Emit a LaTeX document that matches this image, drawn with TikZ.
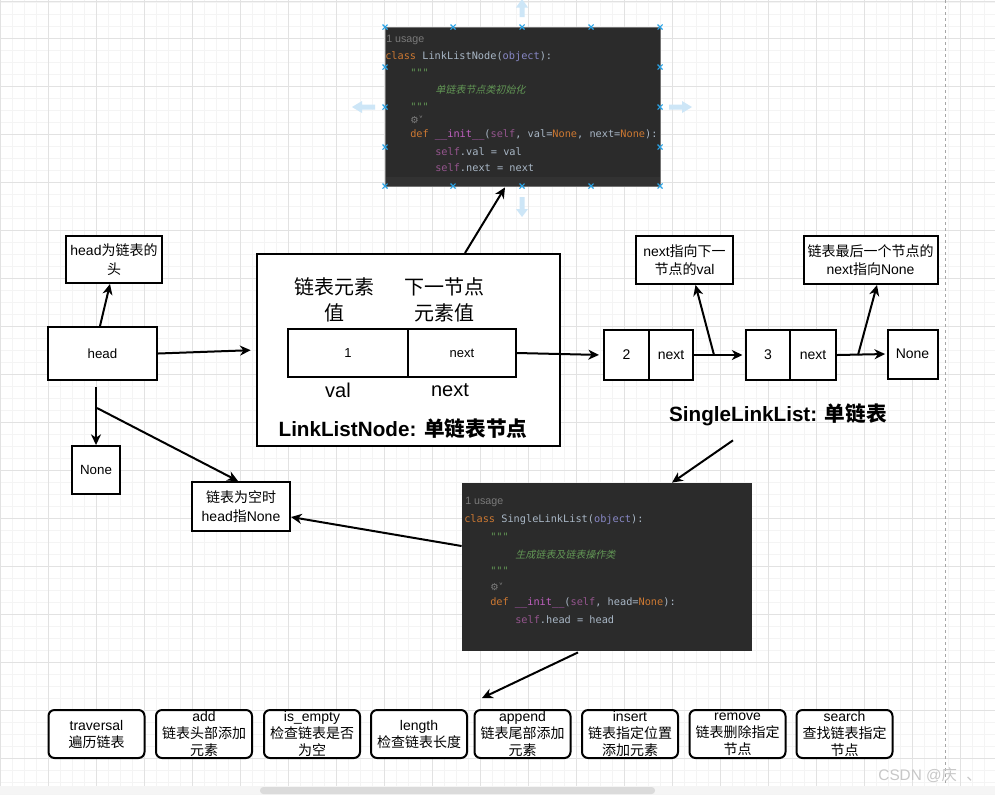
\documentclass[tikz,border=0pt]{standalone}
\usepackage{fontspec}
\setmainfont{Liberation Sans}
\newfontfamily\cjk{Noto Sans CJK SC}
\newfontfamily\cjkit[FakeSlant=0.25]{Noto Sans CJK SC}
\newfontfamily\codefont{DejaVu Sans Mono}
\newfontfamily\symfont{DejaVu Sans}
\newcommand\zh[1]{{\cjk #1}}
\usetikzlibrary{arrows.meta,calc}
\definecolor{codebg}{HTML}{2B2B2B}
\definecolor{codehl}{HTML}{323232}
\definecolor{cfg}{HTML}{A9B7C6}
\definecolor{ckw}{HTML}{CC7832}
\definecolor{cobj}{HTML}{8888C6}
\definecolor{cstr}{HTML}{629755}
\definecolor{cfun}{HTML}{C060C0}
\definecolor{cself}{HTML}{94558D}
\definecolor{cusage}{HTML}{7A7A7A}
\definecolor{handleblue}{HTML}{29A3E6}
\definecolor{hintblue}{HTML}{CDE6F7}
\definecolor{gridminor}{HTML}{F4F4F4}
\definecolor{gridmajor}{HTML}{E2E2E2}
\newcommand\cdkw[1]{\textcolor{ckw}{#1}}
\newcommand\cdob[1]{\textcolor{cobj}{#1}}
\newcommand\cdfun[1]{\textcolor{cfun}{#1}}
\newcommand\cdslf[1]{\textcolor{cself}{#1}}
\begin{document}
\begin{tikzpicture}[x=0.75pt,y=-0.75pt,
  box/.style={draw, line width=1.5pt, fill=white, inner sep=0pt, align=center,
    font=\fontsize{10.5}{14}\selectfont},
  sz/.style 2 args={minimum width=#1*0.75pt, minimum height=#2*0.75pt},
  opbox/.style={box, rounded corners=4.5pt, minimum width=72pt, minimum height=36pt,
    font=\fontsize{10.5}{12.75}\selectfont},
  biglabel/.style={inner sep=0pt, align=center, font=\fontsize{15}{19.5}\selectfont},
  title/.style={inner sep=0pt, font=\bfseries\fontsize{15.5}{19}\selectfont},
  conn/.style={line width=1.5pt, -{Stealth[length=8pt,width=7.5pt,inset=2.5pt]}},
  codeimg/.style={fill=codebg, draw=black!55, line width=0.6pt, inner sep=0pt},
  codeline/.style={anchor=west, inner sep=0pt, text=cfg, font=\codefont\fontsize{7.7}{9}\selectfont},
  usage/.style={anchor=west, inner sep=0pt, text=cusage, font=\fontsize{8}{9}\selectfont},
  docline/.style={anchor=west, inner sep=0pt, text=cstr, font=\cjkit\fontsize{7.5}{9}\selectfont},
  gear/.style={anchor=west, inner sep=0pt, text=black!50, font=\symfont\fontsize{7}{8}\selectfont},
  handle/.style={draw=handleblue, line width=0.8pt},
  hint/.style={fill=hintblue, draw=none}
]
\useasboundingbox (0,0) rectangle (995,794);
\fill[white] (0,0) rectangle (995,794);
% grid
\foreach \gx in {0,12,...,995} \draw[gridminor, line width=0.75pt] (\gx,0) -- (\gx,794);
\foreach \gy in {2,14,...,794} \draw[gridminor, line width=0.75pt] (0,\gy) -- (995,\gy);
\foreach \gx in {0,48,...,995} \draw[gridmajor, line width=0.75pt] (\gx,0) -- (\gx,794);
\foreach \gy in {38,86,...,794} \draw[gridmajor, line width=0.75pt] (0,\gy) -- (995,\gy);
\draw[gridmajor, line width=1pt] (0,1.5) -- (995,1.5);
\draw[black!35, line width=0.75pt, dash pattern=on 2.25pt off 2.25pt] (945,0) -- (945,786);

% ---------- top code image ----------
\node[codeimg, sz={275}{159}] (code1) at (522.5,106.5) {};
\fill[codehl] (385.5,177) rectangle (659.5,185.5);
\node[usage] at (386,40) {1 usage};
\node[codeline] at (385,57) {\cdkw{class} LinkListNode(\cdob{object}):};
\node[codeline, text=cstr] at (410,73) {"""};
\node[docline] at (435,90) {单链表节点类初始化};
\node[codeline, text=cstr] at (410,107) {"""};
\node[gear] at (410,120) {⚙˅};
\node[codeline] at (410,135) {\cdkw{def} \cdfun{\_\_init\_\_}(\cdslf{self}, val=\cdkw{None}, next=\cdkw{None}):};
\node[codeline] at (435,152) {\cdslf{self}.val = val};
\node[codeline] at (435,168) {\cdslf{self}.next = next};
\foreach \hx/\hy in {385/27,453/27,522/27,591/27,660/27,385/186,453/186,522/186,591/186,660/186,385/67,385/107,385/147,660/67,660/107,660/147}
  \draw[handle] (\hx-2.5,\hy-2.5) -- (\hx+2.5,\hy+2.5) (\hx-2.5,\hy+2.5) -- (\hx+2.5,\hy-2.5);
\fill[hint] (519.5,17) -- (519.5,7.5) -- (516,7.5) -- (522,-1) -- (528,7.5) -- (524.5,7.5) -- (524.5,17) -- cycle;
\fill[hint] (519.5,197) -- (519.5,209) -- (516,209) -- (522,217) -- (528,209) -- (524.5,209) -- (524.5,197) -- cycle;
\fill[hint] (375,104.5) -- (362,104.5) -- (362,101) -- (352,107) -- (362,113) -- (362,109.5) -- (375,109.5) -- cycle;
\fill[hint] (669,104.5) -- (682,104.5) -- (682,101) -- (692,107) -- (682,113) -- (682,109.5) -- (669,109.5) -- cycle;

% ---------- second code image ----------
\node[codeimg, draw=none, sz={290}{168}] (code2) at (607,567) {};
\node[usage] at (465,502) {1 usage};
\node[codeline] at (464,520) {\cdkw{class} SingleLinkList(\cdob{object}):};
\node[codeline, text=cstr] at (490,537) {"""};
\node[docline] at (515,555) {生成链表及链表操作类};
\node[codeline, text=cstr] at (490,571) {"""};
\node[gear] at (490,587) {⚙˅};
\node[codeline] at (490,603) {\cdkw{def} \cdfun{\_\_init\_\_}(\cdslf{self}, head=\cdkw{None}):};
\node[codeline] at (515,620) {\cdslf{self}.head = head};

% ---------- left part ----------
\node[box, sz={96}{47}] (lblhead) at (114,259.5) {head\zh{为链表的}\\\zh{头}};
\node[box, sz={109}{53}, font=\fontsize{10}{12}\selectfont] (head) at (102.5,353.5) {head};
\node[box, sz={48}{48}, font=\fontsize{10}{12}\selectfont] (noneL) at (96,470) {None};
\node[box, sz={98}{49}] (empty) at (241,506.5) {\zh{链表为空时}\\head\zh{指}None};

% ---------- LinkListNode box ----------
\node[box, sz={303}{192}] (big) at (408.5,350) {};
\node[biglabel] (lbval) at (334,300) {\zh{链表元素}\\\zh{值}};
\node[biglabel] (lbnext) at (444,300) {\zh{下一节点}\\\zh{元素值}};
\node[box, sz={120}{48}, font=\fontsize{9.75}{12}\selectfont] (valbox) at (348,353) {1};
\node[box, sz={108}{48}, font=\fontsize{9.75}{12}\selectfont] (nextbox) at (462,353) {next};
\node[biglabel] (tval) at (338,390) {val};
\node[biglabel] (tnext) at (450,390) {next};
\node[title] (lln) at (403,429) {LinkListNode: \zh{单链表节点}};

% ---------- chain ----------
\node[box, sz={45}{50}] (n2v) at (626.5,355) {2};
\node[box, sz={44}{50}] (n2n) at (671,355) {next};
\node[box, sz={45}{50}] (n3v) at (768,355) {3};
\node[box, sz={46}{50}] (n3n) at (813,355) {next};
\node[box, sz={50}{49}] (noneR) at (912.5,354) {None};
\node[box, sz={97}{48}] (lbl2) at (684.5,260) {next\zh{指向下一}\\\zh{节点的}val};
\node[box, sz={134}{48}] (lbl3) at (870.5,260) {\zh{链表最后一个节点的}\\next\zh{指向}None};
\node[title] (sll) at (778,415) {SingleLinkList: \zh{单链表}};

% ---------- operations ----------
\node[opbox] (op1) at (96.5,734) {traversal\\\zh{遍历链表}};
\node[opbox] (op2) at (204,734) {add\\\zh{链表头部添加}\\\zh{元素}};
\node[opbox] (op3) at (312,734) {is\_empty\\\zh{检查链表是否}\\\zh{为空}};
\node[opbox] (op4) at (419,734) {length\\\zh{检查链表长度}};
\node[opbox] (op5) at (522.5,734) {append\\\zh{链表尾部添加}\\\zh{元素}};
\node[opbox] (op6) at (630,734) {insert\\\zh{链表指定位置}\\\zh{添加元素}};
\node[opbox] (op7) at (737.5,734) {remove\\\zh{链表删除指定}\\\zh{节点}};
\node[opbox] (op8) at (844.5,734) {search\\\zh{查找链表指定}\\\zh{节点}};

% ---------- connectors ----------
\coordinate (hb) at (96,387);
\coordinate (hbr) at (97,408);
\coordinate (br2) at (714,355);
\coordinate (br3) at (858,355);
\coordinate (opsarrow) at (482,698);
\draw[conn] ($(head.north)+(-2.5,0)$) -- ($(lblhead.south)+(-4,0)$);
\draw[conn, shorten >=4pt] (head.east) -- (big.west);
\draw[conn] (hb) -- (noneL.north);
\draw[conn] (hbr) -- ($(empty.north)+(-3,0)$);
\draw[conn] ($(big.north)+(56.5,0)$) -- ($(code1.south)+(-17.5,1)$);
\draw[conn, shorten >=3pt] (nextbox.east) -- (n2v.west);
\draw[conn, shorten >=1.5pt] (n2n.east) -- (n3v.west);
\draw[conn] (br2) -- ($(lbl2.south)+(11,0)$);
\draw[conn, shorten >=1pt] (n3n.east) -- (noneR.west);
\draw[conn] (br3) -- ($(lbl3.south)+(6.5,0)$);
\draw[conn] ($(sll.south)+(-45,14)$) -- ($(code2.north)+(65,0)$);
\draw[conn] ($(code2.west)+(0,-21)$) -- ($(empty.east)+(0,10.5)$);
\draw[conn] ($(code2.south)+(-29,1)$) -- (opsarrow);

% ---------- window chrome ----------
\fill[black!4] (0,786) rectangle (995,794);
\fill[black!14, rounded corners=2.5pt] (260,787) rectangle (655,794);
\node[inner sep=0pt, text=black!22, font=\fontsize{11.5}{13}\selectfont] (wm) at (930,775) {CSDN @\zh{庆}\hspace{0.6em}\zh{、}};
\end{tikzpicture}
\end{document}
